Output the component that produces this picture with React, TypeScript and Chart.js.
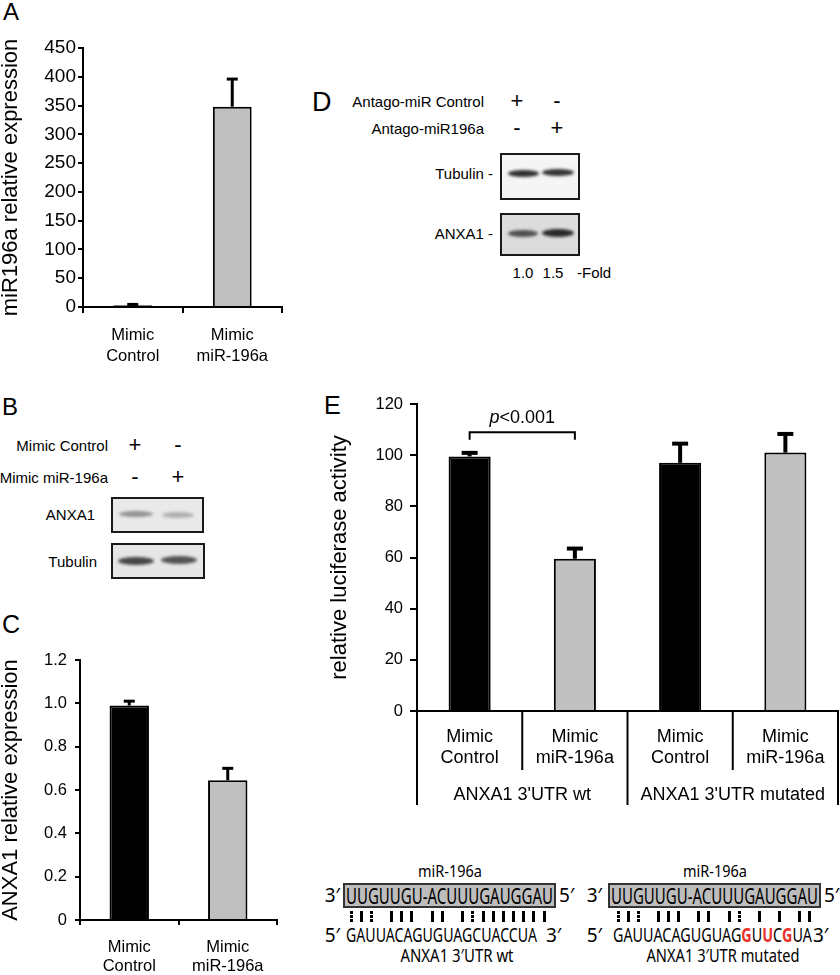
import React, { useEffect, useLayoutEffect, useRef } from "react";
import { Chart, registerables } from "chart.js";
Chart.register(...registerables);

const FONT = '"Liberation Sans", Arial, Helvetica, sans-serif';
const SEQ_FONT = '"Noto Sans", "Open Sans", sans-serif';

// ---------- Panel A data ----------
const aLabels = [["Mimic", "Control"], ["Mimic", "miR-196a"]];
const aValues = [3, 348];
const aErrors = [1.5, 48];
const aColors = ["#000000", "#c0c0c0"];
const aYTitle = "miR196a relative expression";
const aYMax = 450;
const aYStep = 50;

// ---------- Panel C data ----------
const cLabels = [["Mimic", "Control"], ["Mimic", "miR-196a"]];
const cValues = [0.99, 0.645];
const cErrors = [0.02, 0.055];
const cColors = ["#000000", "#c0c0c0"];
const cYTitle = "ANXA1 relative expression";
const cYMax = 1.2;
const cYStep = 0.2;

// ---------- Panel E data ----------
const eLabels = [["Mimic", "Control"], ["Mimic", "miR-196a"], ["Mimic", "Control"], ["Mimic", "miR-196a"]];
const eValues = [99.5, 59.5, 97, 101];
const eErrors = [1.4, 4, 7.5, 7.3];
const eColors = ["#000000", "#c0c0c0", "#000000", "#c0c0c0"];
const eYTitle = "relative luciferase activity";
const eYMax = 120;
const eYStep = 20;
const eGroupLabels = ["ANXA1 3'UTR wt", "ANXA1 3'UTR mutated"];
const eGroupSizes = [2, 2];
const eSigFrom = 0;
const eSigTo = 1;
const eSigValue = 109;
const eSigText = "<0.001";

// ---------- Blots (B, D) ----------
const bRowLabels = ["Mimic Control", "Mimic miR-196a"];
const bSigns = [["+", "-"], ["-", "+"]];
const bBlotNames = ["ANXA1", "Tubulin"];
const bBandAlpha = [[0.42, 0.28], [0.78, 0.72]];
const dRowLabels = ["Antago-miR Control", "Antago-miR196a"];
const dSigns = [["+", "-"], ["-", "+"]];
const dBlotNames = ["Tubulin -", "ANXA1 -"];
const dBandAlpha = [[0.9, 0.88], [0.72, 0.92]];
const dFold = ["1.0", "1.5"];
const dFoldUnit = "-Fold";

// ---------- Sequences ----------
const seqTitle = "miR-196a";
const miRNA = "UUGUUGU-ACUUUGAUGGAU";
const wtUTR = "GAUUACAGUGUAGCUACCUA";
const mutUTR = "GAUUACAGUGUAGGUUCGUA";
const mutRed = [13, 15, 17];
const wtPairs = ":|: ||| || |:|||||||";
const mutPairs = ":|: ||| || |: | | ||";
const wtName = "ANXA1 3\u2032UTR wt";
const mutName = "ANXA1 3\u2032UTR mutated";

// ---------- plugins ----------
const errorBarPlugin = {
  id: "errorBars",
  afterDatasetsDraw(chart: any, _a: any, o: any) {
    const ctx = chart.ctx;
    const ys = chart.scales.y;
    const meta = chart.getDatasetMeta(0);
    const ds = chart.data.datasets[0];
    ctx.save();
    ctx.strokeStyle = "#000";
    ctx.lineWidth = o.lineWidth;
    meta.data.forEach((bar: any, i: number) => {
      const v = ds.data[i];
      const e = o.errors[i];
      const top = ys.getPixelForValue(v + e);
      const base = ys.getPixelForValue(v);
      ctx.beginPath();
      ctx.moveTo(bar.x, base);
      ctx.lineTo(bar.x, top);
      ctx.stroke();
      ctx.beginPath();
      ctx.moveTo(bar.x - o.capWidth / 2, top);
      ctx.lineTo(bar.x + o.capWidth / 2, top);
      ctx.stroke();
    });
    ctx.restore();
  },
};

const groupAxisPlugin = {
  id: "groupAxis",
  afterDraw(chart: any, _a: any, o: any) {
    const xs = chart.scales.x;
    const ctx = chart.ctx;
    const n = chart.data.labels.length;
    const w = (xs.right - xs.left) / n;
    const y0 = xs.top;
    const ends: number[] = [];
    let acc = 0;
    o.sizes.forEach((s: number) => {
      acc += s;
      ends.push(acc);
    });
    ctx.save();
    ctx.strokeStyle = "#000";
    ctx.lineWidth = 2;
    for (let i = 0; i <= n; i++) {
      const px = i < n ? xs.getPixelForValue(i) - w / 2 : xs.getPixelForValue(n - 1) + w / 2;
      const outer = i === 0 || ends.includes(i);
      ctx.beginPath();
      ctx.moveTo(px, y0);
      ctx.lineTo(px, y0 + (outer ? o.outerLen : o.innerLen));
      ctx.stroke();
    }
    ctx.fillStyle = "#000";
    ctx.font = `${o.fontSize}px ${FONT}`;
    ctx.textAlign = "center";
    ctx.textBaseline = "middle";
    let start = 0;
    o.labels.forEach((lab: string, g: number) => {
      const end = start + o.sizes[g];
      const cx = (xs.getPixelForValue(start) + xs.getPixelForValue(end - 1)) / 2;
      ctx.fillText(lab, cx, y0 + o.labelOffset);
      start = end;
    });
    ctx.restore();
  },
};

const sigPlugin = {
  id: "sig",
  afterDatasetsDraw(chart: any, _a: any, o: any) {
    const meta = chart.getDatasetMeta(0);
    const ys = chart.scales.y;
    const ctx = chart.ctx;
    const xa = meta.data[o.from].x;
    const xb = meta.data[o.to].x;
    const yt = ys.getPixelForValue(o.value);
    const yl = ys.getPixelForValue(o.value - o.leg);
    ctx.save();
    ctx.strokeStyle = "#000";
    ctx.lineWidth = 2;
    ctx.beginPath();
    ctx.moveTo(xa, yl);
    ctx.lineTo(xa, yt);
    ctx.lineTo(xb, yt);
    ctx.lineTo(xb, yl);
    ctx.stroke();
    ctx.fillStyle = "#000";
    ctx.textBaseline = "middle";
    ctx.textAlign = "left";
    const fi = `italic ${o.fontSize}px ${FONT}`;
    const fn = `${o.fontSize}px ${FONT}`;
    ctx.font = fi;
    const wp = ctx.measureText("p").width;
    ctx.font = fn;
    const wr = ctx.measureText(o.text).width;
    const x0 = (xa + xb) / 2 - (wp + wr) / 2;
    const ty = yt - o.textGap;
    ctx.font = fi;
    ctx.fillText("p", x0, ty);
    ctx.font = fn;
    ctx.fillText(o.text, x0 + wp, ty);
    ctx.restore();
  },
};

function makeConfig(p: any): any {
  return {
    type: "bar",
    data: {
      labels: p.labels,
      datasets: [
        {
          data: p.values,
          backgroundColor: p.colors,
          borderColor: "#000",
          borderWidth: 2,
          categoryPercentage: 1,
          barPercentage: p.barPct,
        },
      ],
    },
    options: {
      responsive: false,
      animation: false,
      devicePixelRatio: 1,
      layout: { padding: p.padding },
      plugins: {
        legend: { display: false },
        tooltip: { enabled: false },
        errorBars: { errors: p.errors, capWidth: p.capWidth, lineWidth: p.errLW },
        ...(p.pluginOpts || {}),
      },
      scales: {
        y: {
          min: 0,
          max: p.yMax,
          ticks: {
            stepSize: p.yStep,
            color: "#000",
            font: { family: FONT, size: p.yTickSize },
            padding: p.yTickPad,
            callback: p.yFmt,
          },
          grid: {
            display: true,
            drawOnChartArea: false,
            drawTicks: true,
            tickLength: p.yTickLen,
            color: "#000",
            lineWidth: 2,
          },
          border: { display: true, color: "#000", width: 2 },
          title: {
            display: true,
            text: p.yTitle,
            color: "#000",
            font: { family: FONT, size: 22, lineHeight: 1 },
            padding: { top: p.titlePad, bottom: 0 },
          },
          afterFit: (s: any) => {
            s.width = p.yWidth;
          },
        },
        x: {
          type: "category",
          offset: true,
          ticks: {
            color: "#000",
            font: { family: FONT, size: p.xFontSize, lineHeight: p.xLineHeight },
            padding: p.xPad,
            maxRotation: 0,
            minRotation: 0,
            autoSkip: false,
          },
          grid: {
            display: p.xGrid,
            offset: true,
            drawOnChartArea: false,
            drawTicks: p.xGrid,
            tickLength: p.xTickLen,
            color: "#000",
            lineWidth: 2,
          },
          border: { display: true, color: "#000", width: 2 },
          afterFit: (s: any) => {
            s.height = p.xHeight;
          },
        },
      },
    },
    plugins: [errorBarPlugin, ...(p.extraPlugins || [])],
  };
}

function BarChart({ left, top, width, height, build }: any) {
  const ref = useRef<HTMLCanvasElement>(null);
  useEffect(() => {
    const chart = new Chart(ref.current as HTMLCanvasElement, build());
    return () => chart.destroy();
  }, []);
  return (
    <canvas
      ref={ref}
      width={width}
      height={height}
      style={{ position: "absolute", left, top, width, height }}
    />
  );
}

function T({ x, y, children, size = 15, anchor = "start", style }: any) {
  const tx = anchor === "middle" ? "-50%" : anchor === "end" ? "-100%" : "0";
  return (
    <div
      style={{
        position: "absolute",
        left: x,
        top: y,
        transform: `translate(${tx}, -50%)`,
        fontSize: size,
        lineHeight: 1,
        whiteSpace: "nowrap",
        ...style,
      }}
    >
      {children}
    </div>
  );
}

function FitText({ x, y, width, size, children, anchor = "start", style }: any) {
  const ref = useRef<HTMLDivElement>(null);
  useLayoutEffect(() => {
    const el = ref.current;
    if (!el) return;
    el.style.transform = "none";
    const w = el.getBoundingClientRect().width || 1;
    const s = width / w;
    const tx = anchor === "middle" ? -width / 2 : anchor === "end" ? -width : 0;
    el.style.transform = `translate(${tx}px, -50%) scaleX(${s})`;
  }, []);
  return (
    <div
      ref={ref}
      style={{
        position: "absolute",
        left: x,
        top: y,
        fontSize: size,
        lineHeight: 1,
        whiteSpace: "nowrap",
        transformOrigin: "0 50%",
        fontFamily: SEQ_FONT,
        ...style,
      }}
    >
      {children}
    </div>
  );
}

function Band({ x1, x2, y, h, alpha }: any) {
  return (
    <div
      style={{
        position: "absolute",
        left: x1,
        top: y - h / 2,
        width: x2 - x1,
        height: h,
        borderRadius: "50%",
        background: `rgba(25,25,25,${alpha})`,
        filter: "blur(1.6px)",
      }}
    />
  );
}

function Box({ left, top, width, height, bg }: any) {
  return (
    <div
      style={{
        position: "absolute",
        left,
        top,
        width,
        height,
        boxSizing: "border-box",
        border: "2px solid #1a1a1a",
        background: bg,
      }}
    />
  );
}

function PairMarks({ pattern, start, step, top }: any) {
  const out: any[] = [];
  pattern.split("").forEach((c: string, i: number) => {
    const cx = start + i * step;
    if (c === "|") {
      out.push(
        <div key={i} style={{ position: "absolute", left: cx - 1.5, top, width: 3, height: 11, background: "#000" }} />
      );
    } else if (c === ":") {
      [0, 4, 8].forEach((d) =>
        out.push(
          <div
            key={i + "-" + d}
            style={{ position: "absolute", left: cx - 1.5, top: top + d, width: 3, height: 2.5, background: "#000" }}
          />
        )
      );
    }
  });
  return <>{out}</>;
}

function SeqBlock({ boxLeft, title, titleX, mrna, red, pairs, markStart, markStep, mLeft, mWidth, p3mX, name, nameX, nameW, left3X, right5X }: any) {
  return (
    <>
      <FitText x={titleX} y={870} width={64} size={17} anchor="middle">{title}</FitText>
      <T x={left3X} y={895} size={19} anchor="end" style={{ fontFamily: SEQ_FONT }}>3′</T>
      <div
        style={{
          position: "absolute",
          left: boxLeft,
          top: 883,
          width: 213,
          height: 25,
          boxSizing: "border-box",
          border: "2px solid #333",
          background: "#bdbdbd",
        }}
      />
      <FitText x={boxLeft + 3} y={896} width={207} size={22.5}>{miRNA}</FitText>
      <T x={right5X} y={895} size={19} style={{ fontFamily: SEQ_FONT }}>5′</T>
      <PairMarks pattern={pairs} start={markStart} step={markStep} top={911} />
      <T x={left3X} y={935} size={19} anchor="end" style={{ fontFamily: SEQ_FONT }}>5′</T>
      <FitText x={mLeft} y={935} width={mWidth} size={20}>
        {mrna.split("").map((ch: string, i: number) =>
          red.includes(i) ? (
            <span key={i} style={{ color: "#e8312a", fontWeight: 700 }}>{ch}</span>
          ) : (
            <span key={i}>{ch}</span>
          )
        )}
      </FitText>
      <T x={p3mX} y={935} size={19} style={{ fontFamily: SEQ_FONT }}>3′</T>
      <FitText x={nameX} y={955} width={nameW} size={18} anchor="middle">{name}</FitText>
    </>
  );
}

const intFmt = (v: any) => String(v);
const decFmt = (v: any) => (Number(v) === 0 ? "0" : Number(v).toFixed(1));

export default function App() {
  return (
    <div
      style={{
        position: "absolute",
        left: 0,
        top: 0,
        width: 840,
        height: 975,
        background: "#fff",
        overflow: "hidden",
        fontFamily: FONT,
        color: "#000",
      }}
    >
      {/* Panel A */}
      <T x={3} y={12} size={24}>A</T>
      <BarChart
        left={0}
        top={0}
        width={300}
        height={380}
        build={() =>
          makeConfig({
            labels: aLabels, values: aValues, colors: aColors, errors: aErrors,
            yMax: aYMax, yStep: aYStep, yFmt: intFmt, yTitle: aYTitle,
            padding: { left: 0, top: 48, right: 18, bottom: 3 },
            yWidth: 83, xHeight: 70, yTickSize: 19, yTickPad: 2, yTickLen: 5, titlePad: 0,
            xFontSize: 16.5, xLineHeight: 1.33, xPad: 11, xTickLen: 6, xGrid: true,
            barPct: 0.39, capWidth: 11, errLW: 3,
          })
        }
      />

      {/* Panel B */}
      <T x={2} y={407} size={24}>B</T>
      {bRowLabels.map((lab, r) => (
        <React.Fragment key={lab}>
          <T x={108} y={445 + r * 32} size={15} anchor="end">{lab}</T>
          <T x={135} y={445 + r * 32} size={22} anchor="middle">{bSigns[r][0]}</T>
          <T x={178} y={445 + r * 32} size={22} anchor="middle">{bSigns[r][1]}</T>
        </React.Fragment>
      ))}
      <T x={95} y={514} size={15} anchor="end">{bBlotNames[0]}</T>
      <Box left={111} top={497} width={93} height={36} bg="#e9e9e9" />
      <Band x1={119} x2={153} y={514} h={6} alpha={bBandAlpha[0][0]} />
      <Band x1={162} x2={194} y={515} h={6} alpha={bBandAlpha[0][1]} />
      <T x={97} y={561} size={15} anchor="end">{bBlotNames[1]}</T>
      <Box left={111} top={543} width={94} height={36} bg="#e6e6e6" />
      <Band x1={118} x2={154} y={561} h={8} alpha={bBandAlpha[1][0]} />
      <Band x1={161} x2={197} y={560} h={8} alpha={bBandAlpha[1][1]} />

      {/* Panel C */}
      <T x={2} y={624} size={25}>C</T>
      <BarChart
        left={0}
        top={600}
        width={300}
        height={375}
        build={() =>
          makeConfig({
            labels: cLabels, values: cValues, colors: cColors, errors: cErrors,
            yMax: cYMax, yStep: cYStep, yFmt: decFmt, yTitle: cYTitle,
            padding: { left: 0, top: 60, right: 23, bottom: 0 },
            yWidth: 80, xHeight: 55, yTickSize: 16.5, yTickPad: 8, yTickLen: 5, titlePad: 0,
            xFontSize: 16.5, xLineHeight: 1.21, xPad: 12, xTickLen: 5, xGrid: true,
            barPct: 0.4, capWidth: 11, errLW: 3,
          })
        }
      />

      {/* Panel D */}
      <T x={312} y={102} size={27}>D</T>
      {dRowLabels.map((lab, r) => (
        <React.Fragment key={lab}>
          <T x={484} y={101 + r * 27} size={15} anchor="end">{lab}</T>
          <T x={517} y={101 + r * 27} size={22} anchor="middle">{dSigns[r][0]}</T>
          <T x={557} y={101 + r * 27} size={22} anchor="middle">{dSigns[r][1]}</T>
        </React.Fragment>
      ))}
      <T x={493} y={173} size={15} anchor="end">{dBlotNames[0]}</T>
      <Box left={500} top={153} width={80} height={47} bg="#f5f5f5" />
      <Band x1={508} x2={539} y={173} h={7} alpha={dBandAlpha[0][0]} />
      <Band x1={542} x2={574} y={172} h={7} alpha={dBandAlpha[0][1]} />
      <T x={493} y={233} size={15} anchor="end">{dBlotNames[1]}</T>
      <Box left={500} top={213} width={80} height={43} bg="#dcdcdc" />
      <Band x1={508} x2={538} y={233} h={7} alpha={dBandAlpha[1][0]} />
      <Band x1={542} x2={574} y={233} h={8} alpha={dBandAlpha[1][1]} />
      <T x={523} y={272} size={15} anchor="middle">{dFold[0]}</T>
      <T x={553} y={272} size={15} anchor="middle">{dFold[1]}</T>
      <T x={577} y={272} size={15}>{dFoldUnit}</T>

      {/* Panel E */}
      <T x={324} y={405} size={25}>E</T>
      <BarChart
        left={325}
        top={340}
        width={515}
        height={480}
        build={() =>
          makeConfig({
            labels: eLabels, values: eValues, colors: eColors, errors: eErrors,
            yMax: eYMax, yStep: eYStep, yFmt: intFmt, yTitle: eYTitle,
            padding: { left: 0, top: 64, right: 2, bottom: 0 },
            yWidth: 92, xHeight: 109, yTickSize: 16.5, yTickPad: 7, yTickLen: 7, titlePad: 4,
            xFontSize: 18, xLineHeight: 1.2, xPad: 15, xTickLen: 0, xGrid: false,
            barPct: 0.4, capWidth: 16, errLW: 4,
            pluginOpts: {
              groupAxis: { labels: eGroupLabels, sizes: eGroupSizes, innerLen: 59, outerLen: 94, labelOffset: 84, fontSize: 18 },
              sig: { from: eSigFrom, to: eSigTo, value: eSigValue, leg: 3, text: eSigText, fontSize: 18, textGap: 14 },
            },
            extraPlugins: [groupAxisPlugin, sigPlugin],
          })
        }
      />

      {/* Sequences */}
      <SeqBlock
        boxLeft={343} title={seqTitle} titleX={450} mrna={wtUTR} red={[]} pairs={wtPairs}
        markStart={351} markStep={10.16} mLeft={346} mWidth={191} p3mX={546}
        name={wtName} nameX={457} nameW={113} left3X={340} right5X={559}
      />
      <SeqBlock
        boxLeft={608} title={seqTitle} titleX={715} mrna={mutUTR} red={mutRed} pairs={mutPairs}
        markStart={618} markStep={10.1} mLeft={613} mWidth={199} p3mX={813}
        name={mutName} nameX={723} nameW={153} left3X={602} right5X={824}
      />
    </div>
  );
}
